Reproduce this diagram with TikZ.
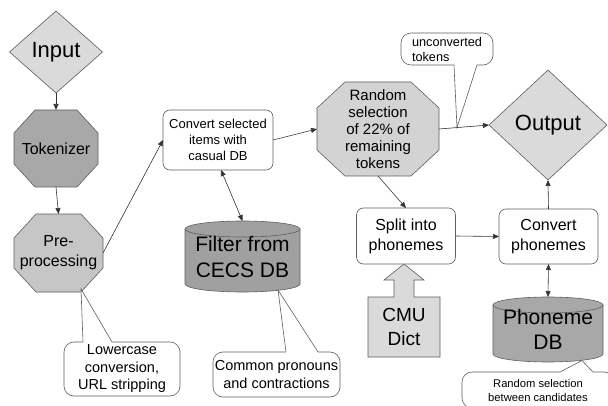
\documentclass[tikz,border=0pt]{standalone}
\usepackage{fontspec}
\setmainfont{Liberation Sans}
\usetikzlibrary{shapes.geometric,arrows.meta,calc,backgrounds}

\definecolor{outline}{HTML}{5E5E5E}
\definecolor{wire}{HTML}{333333}
\definecolor{palegray}{HTML}{DADADA}
\definecolor{softgray}{HTML}{C6C6C6}
\definecolor{stonegray}{HTML}{A8A8A8}
\definecolor{dbgray}{HTML}{A0A0A0}

% octagon drawn behind a named rectangular node: node, chamfer x, chamfer y, fill
\newcommand\octagonon[4]{%
  \begin{pgfonlayer}{background}
  \path[shapeline,fill=#4] ($(#1.north west)+(#2,0)$) -- ($(#1.north east)+(-#2,0)$)
    -- ($(#1.north east)+(0,-#3)$) -- ($(#1.south east)+(0,#3)$)
    -- ($(#1.south east)+(-#2,0)$) -- ($(#1.south west)+(#2,0)$)
    -- ($(#1.south west)+(0,#3)$) -- ($(#1.north west)+(0,-#3)$) -- cycle;
  \end{pgfonlayer}}

% database cylinder behind a named node: node, x radius, fill
\newcommand\cylinderon[3]{%
  \begin{pgfonlayer}{background}
  \path[shapeline,fill=#3] ($(#1.north west)+(0,-8)$) -- ($(#1.south west)+(0,8)$)
    arc[start angle=180,end angle=360,x radius=#2pt,y radius=8pt]
    -- ($(#1.north east)+(0,-8)$)
    arc[start angle=0,end angle=180,x radius=#2pt,y radius=8pt] -- cycle;
  \path[shapeline] ($(#1.north west)+(0,-8)$)
    arc[start angle=180,end angle=360,x radius=#2pt,y radius=8pt];
  \end{pgfonlayer}}

% pointer of a callout: tip, base A, base B, overlap into the box
\newcommand\callouttail[4]{%
  \fill[white] (#1) -- (#2) -- ($(#2)+(0,#4)$) -- ($(#3)+(0,#4)$) -- (#3) -- cycle;
  \draw[shapeline] (#2) -- (#1) -- (#3);}

\tikzset{
  shapeline/.style={draw=outline,line width=0.6pt},
  nodebase/.style={inner sep=0pt,outer sep=0pt,align=center},
  roundbox/.style={nodebase,shapeline,fill=white,rounded corners=7pt},
  callbox/.style={nodebase,shapeline,fill=white,rounded corners=10pt,
    font=\fontsize{14.5}{17.5}\selectfont},
  gem/.style={nodebase,shapeline,diamond,fill=palegray,
    font=\fontsize{22}{26}\selectfont},
  flow/.style={draw=wire,line width=0.6pt,-{Triangle[length=6pt,width=5pt]}},
  twoway/.style={draw=wire,line width=0.6pt,
    {Triangle[length=6pt,width=5pt]}-{Triangle[length=6pt,width=5pt]}},
}

\begin{document}
\begin{tikzpicture}[x=1pt,y=1pt]
\useasboundingbox (0,0) rectangle (608,405);

% main flow
\node[gem,minimum width=93,minimum height=82] (input) at (56,353) {Input};
\node[nodebase,minimum width=84,minimum height=77,
  font=\fontsize{16}{20}\selectfont] (tok) at (56,256.5) {Tokenizer};
\node[nodebase,minimum width=89,minimum height=78,
  font=\fontsize{16}{20}\selectfont] (pre) at (58.5,152) {Pre-\\processing};
\node[roundbox,minimum width=110,minimum height=60,
  font=\fontsize{13}{16}\selectfont] (conv) at (218,265)
  {Convert selected\\items with\\casual DB};
\node[nodebase,minimum width=115,minimum height=71,
  font=\fontsize{21}{26}\selectfont] (filter) at (242.5,148.5) {Filter from\\CECS DB};
\node[nodebase,minimum width=122,minimum height=94,
  font=\fontsize{15}{17}\selectfont] (rand) at (378,276)
  {Random\\selection\\of 22\% of\\remaining\\tokens};
\node[gem,minimum width=118,minimum height=110] (out) at (548,280) {Output};
\node[roundbox,minimum width=99,minimum height=56,
  font=\fontsize{16}{20}\selectfont] (split) at (406,169) {Split into\\phonemes};
\node[roundbox,minimum width=99,minimum height=55,
  font=\fontsize{16}{20}\selectfont] (cph) at (548.5,168.5) {Convert\\phonemes};
\node[nodebase,minimum width=110,minimum height=65,
  font=\fontsize{21}{25}\selectfont] (phon) at (548,75.5) {Phoneme\\DB};
\node[nodebase,minimum width=72,minimum height=60,
  font=\fontsize{19}{24}\selectfont] (cmu) at (404,78) {CMU\\Dict};

\octagonon{tok}{21}{23}{stonegray}
\octagonon{pre}{22}{24}{softgray}
\octagonon{rand}{28}{26}{palegray!97!black}
\cylinderon{filter}{57.5}{dbgray}
\cylinderon{phon}{55}{stonegray}

% block arrow feeding the dictionary into the splitter
\begin{pgfonlayer}{background}
\path[shapeline,fill=palegray] (cmu.south west) -- (cmu.north west)
  -- ($(cmu.north)+(-10,0)$) -- ($(cmu.north)+(-10,17)$) -- ($(cmu.north)+(-20,17)$)
  -- (cmu.north |- split.south)
  -- ($(cmu.north)+(20,17)$) -- ($(cmu.north)+(10,17)$) -- ($(cmu.north)+(10,0)$)
  -- (cmu.north east) -- (cmu.south east) -- cycle;
\end{pgfonlayer}

% callouts
\node[callbox,minimum width=116,minimum height=54] (low) at (122,36)
  {Lowercase\\conversion,\\URL stripping};
\node[callbox,minimum width=127,minimum height=45] (com) at (276.5,30.5)
  {Common pronouns\\and contractions};
\node[callbox,minimum width=92,minimum height=32,align=left,
  font=\fontsize{12.7}{15}\selectfont] (unc) at (447,356) {unconverted\\tokens};
\node[callbox,minimum width=152,minimum height=36,
  font=\fontsize{11.2}{14}\selectfont] (rsel) at (538,15)
  {Random selection\\between candidates};

\coordinate (lowtip) at ($(pre.south east)+(-22,3)$);
\coordinate (lowa) at ($(low.north west)+(19,0)$);
\coordinate (lowb) at ($(low.north west)+(48,0)$);
\callouttail{lowtip}{lowa}{lowb}{-1.5}

\coordinate (comtip) at ($(filter.south)+(35.5,2)$);
\coordinate (coma) at ($(com.north west)+(73,0)$);
\coordinate (comb) at ($(com.north west)+(105,0)$);
\callouttail{comtip}{coma}{comb}{-1.5}

\coordinate (unctip) at ($(rand.east)!0.36!(out.west)$);
\coordinate (unca) at ($(unc.south west)+(53,0)$);
\coordinate (uncb) at ($(unc.south west)+(76,0)$);
\callouttail{unctip}{unca}{uncb}{1.5}

\coordinate (rseltip) at ($(phon.south)+(34,1.5)$);
\coordinate (rsela) at ($(rsel.north west)+(98,0)$);
\coordinate (rselb) at ($(rsel.north west)+(131,0)$);
\callouttail{rseltip}{rsela}{rselb}{-1.5}

% connectors
\draw[flow] (input.south) -- (tok.north);
\draw[flow] (tok.south) -- (pre.north);
\draw[flow] (pre.east) -- (conv.west);
\draw[flow] (conv.east) -- (rand.west);
\draw[twoway] ($(conv.south)+(3,0)$) -- (filter.north);
\draw[flow] (rand.east) -- (out.west);
\draw[flow] (rand.south) -- (split.north);
\draw[flow] (split.east) -- (cph.west);
\draw[flow] (cph.north) -- (out.south);
\draw[twoway] (cph.south) -- (phon.north);
\end{tikzpicture}
\end{document}
